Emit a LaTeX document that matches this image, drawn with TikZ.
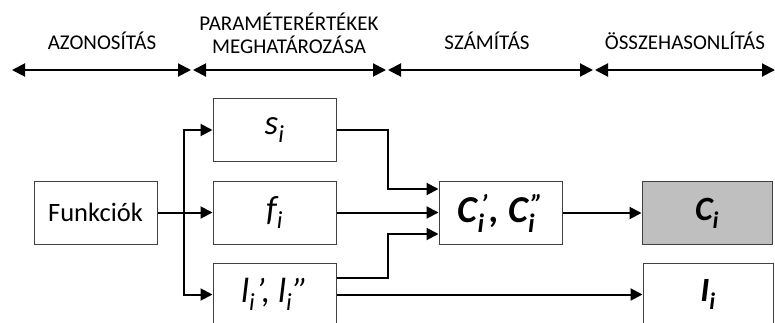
\documentclass[tikz,border=0pt]{standalone}
\usepackage{fontspec}
\setmainfont{Carlito}
\usetikzlibrary{arrows.meta,calc}
\begin{document}
\begin{tikzpicture}[x=1pt,y=-1pt,
  box/.style={draw=black!75,line width=1pt,minimum width=123pt,minimum height=63pt,inner sep=0pt},
  arr/.style={line width=2pt,-{Triangle[length=12pt,width=12pt]}},
  hdr/.style={line width=2pt,{Triangle[length=13pt,width=13pt]}-{Triangle[length=13pt,width=13pt]}},
  lbl/.style={font=\fontsize{21}{23}\selectfont,align=center,inner sep=0pt},
  it/.style={font=\fontsize{35}{38}\selectfont\itshape},
  bi/.style={font=\fontsize{34}{38}\selectfont\bfseries\itshape}]
\useasboundingbox (0,0) rectangle (775,322);
\clip (0,0) rectangle (775,322);
% header
\coordinate (h0) at (12,70);
\coordinate (h1) at (191,70);
\coordinate (h2) at (193,70);
\coordinate (h3) at (386,70);
\coordinate (h4) at (388,70);
\coordinate (h5) at (593,70);
\coordinate (h6) at (595,70);
\coordinate (h7) at (775,70);
\draw[hdr] (h0) -- (h1);
\draw[hdr] (h2) -- (h3);
\draw[hdr] (h4) -- (h5);
\draw[hdr] (h6) -- (h7);
\node[lbl] (t1) at (102,41) {AZONOSÍTÁS};
\node[lbl] (t2) at (289,33) {PARAMÉTERÉRTÉKEK\\MEGHATÁROZÁSA};
\node[lbl] (t3) at (487,41) {SZÁMÍTÁS};
\node[lbl] (t4) at (685,41) {ÖSSZEHASONLÍTÁS};
% boxes
\node[box,font=\fontsize{26.5}{28}\selectfont] (fun) at (95.5,212.5) {Funkciók};
\node[box,it] (s) at (274.5,130) {s\textsubscript{i}};
\node[box,it] (f) at (274.5,212.5) {f\textsubscript{i}};
\node[box,it] (l) at (274.5,294.5) {l\textsubscript{i}\kern1pt’, l\textsubscript{i}\kern1pt”};
\node[box,font=\fontsize{38}{40}\selectfont\bfseries\itshape] (C) at (500.5,213) {C\rlap{\textsubscript{i}}\textsuperscript{\kern3pt’}\kern2pt, C\rlap{\textsubscript{i}}\textsuperscript{\kern3pt”}\hspace{4pt}};
\node[box,bi,fill=black!25,minimum width=130pt] (Ci) at (707,213) {C\textsubscript{i}};
\node[box,bi,minimum width=130pt] (Ii) at (708,294.5) {I\textsubscript{i}};
% connectors
\coordinate (br) at (184,212.5);
\draw[arr] (fun.east) -- (f.west);
\draw[arr] (br) |- (s.west);
\draw[arr] (br) |- (l.west);
\draw[arr] (s.east) -- ++(51,0) |- ([yshift=24pt]C.west);
\draw[arr] (f.east) -- (C.west |- f.east);
\draw[arr] ([yshift=16.5pt]l.east) -- ++(51,0) |- ([yshift=-21pt]C.west);
\draw[arr] (l.east) -- (Ii.west |- l.east);
\draw[arr] (C.east) -- (Ci.west);
\end{tikzpicture}
\end{document}
